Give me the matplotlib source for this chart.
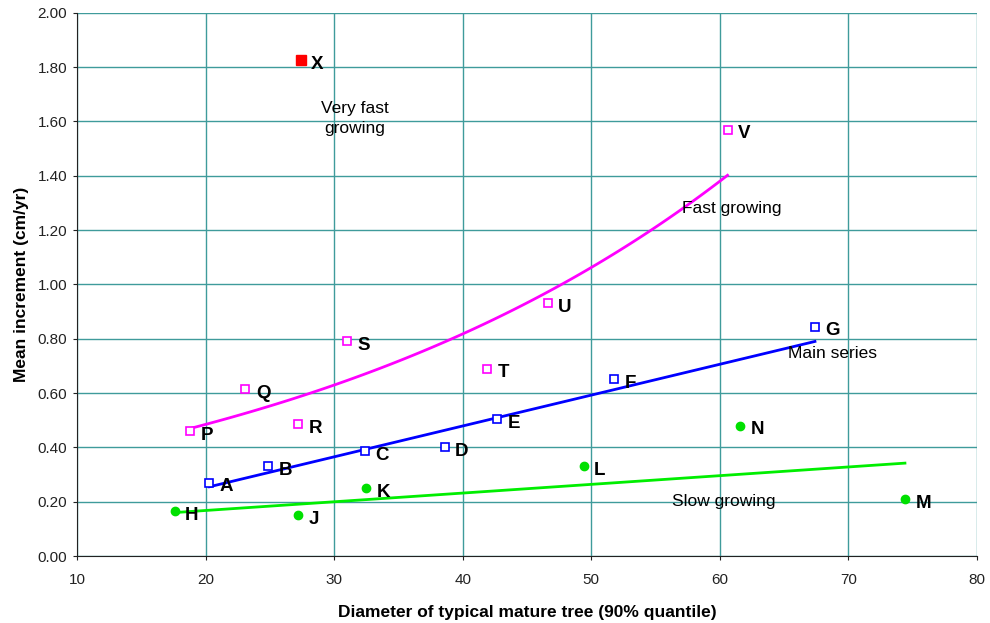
import numpy as np
import matplotlib
matplotlib.use("Agg")
import matplotlib.pyplot as plt

plt.rcParams['font.family'] = ['Liberation Sans', 'DejaVu Sans']

# Main series (blue open squares)
main_labels = ['A', 'B', 'C', 'D', 'E', 'F', 'G']
main_x = [20.3, 24.85, 32.4, 38.6, 42.7, 51.8, 67.4]
main_y = [0.27, 0.33, 0.385, 0.40, 0.505, 0.65, 0.845]

# Fast growing (magenta open squares)
fast_labels = ['P', 'Q', 'R', 'S', 'T', 'U', 'V']
fast_x = [18.8, 23.1, 27.2, 31.0, 41.9, 46.6, 60.6]
fast_y = [0.46, 0.615, 0.485, 0.79, 0.69, 0.93, 1.57]

# Slow growing (green dots)
slow_labels = ['H', 'J', 'K', 'L', 'M', 'N']
slow_x = [17.6, 27.2, 32.5, 49.4, 74.4, 61.6]
slow_y = [0.165, 0.15, 0.25, 0.33, 0.21, 0.48]

# Very fast growing (red square)
vfast_labels = ['X']
vfast_x = [27.4]
vfast_y = [1.825]

# trend lines (end points)
main_trend_x = [20.3, 67.4]
main_trend_y = [0.255, 0.79]
slow_trend_x = [17.6, 74.4]
slow_trend_y = [0.16, 0.342]

fig = plt.figure(figsize=(9.9, 6.23), dpi=100)
ax = fig.add_axes([0.0778, 0.1075, 0.909, 0.872])

grid_col = '#3f9b9b'
ax.set_xlim(10, 80)
ax.set_ylim(0, 2.0)
ax.set_xticks(np.arange(10, 81, 10))
ax.set_yticks(np.arange(0, 2.01, 0.2))
ax.set_yticklabels([f"{v:.2f}" for v in np.arange(0, 2.01, 0.2)])
ax.grid(True, color=grid_col, linewidth=1.0)
ax.set_axisbelow(True)
for s in ['top', 'right']:
    ax.spines[s].set_visible(False)
for s in ['left', 'bottom']:
    ax.spines[s].set_color('#222222')
ax.tick_params(direction='out', length=3, labelsize=11, colors='#222222')
ax.tick_params(axis='x', pad=9)
ax.tick_params(axis='y', pad=4)

# exponential trend for fast growing series
b, a = np.polyfit(fast_x, np.log(fast_y), 1)
fx = np.linspace(min(fast_x), max(fast_x), 100)
ax.plot(fx, np.exp(a + b * fx), color='#ff00ff', lw=2, zorder=2)
ax.plot(main_trend_x, main_trend_y, color='#0000ff', lw=2, zorder=2)
ax.plot(slow_trend_x, slow_trend_y, color='#00ee00', lw=2, zorder=2)

ax.plot(main_x, main_y, 's', ms=6, mfc='white', mec='#0000ff', mew=1.2, ls='none', zorder=3)
ax.plot(fast_x, fast_y, 's', ms=6, mfc='white', mec='#ff00ff', mew=1.2, ls='none', zorder=3)
ax.plot(slow_x, slow_y, 'o', ms=6, color='#00e000', ls='none', zorder=3)
ax.plot(vfast_x, vfast_y, 's', ms=7, color='#ff0000', ls='none', zorder=3)

for labs, xs, ys in [(main_labels, main_x, main_y), (fast_labels, fast_x, fast_y),
                     (slow_labels, slow_x, slow_y), (vfast_labels, vfast_x, vfast_y)]:
    for l, x, y in zip(labs, xs, ys):
        ax.annotate(l, (x, y), xytext=(7.5, -3), textcoords='offset points',
                    fontsize=13.5, fontweight='bold', va='center', ha='left')

ax.text(31.6, 1.61, 'Very fast\ngrowing', fontsize=12.5, ha='center', va='center', linespacing=1.45)
ax.text(60.9, 1.28, 'Fast growing', fontsize=12.5, ha='center', va='center')
ax.text(68.8, 0.745, 'Main series', fontsize=12.5, ha='center', va='center')
ax.text(60.3, 0.20, 'Slow growing', fontsize=12.5, ha='center', va='center')

ax.set_xlabel('Diameter of typical mature tree (90% quantile)', fontsize=12.5, fontweight='bold', labelpad=13)
ax.set_ylabel('Mean increment (cm/yr)', fontsize=12.5, fontweight='bold', labelpad=6)

fig.savefig('out.png', dpi=100)
